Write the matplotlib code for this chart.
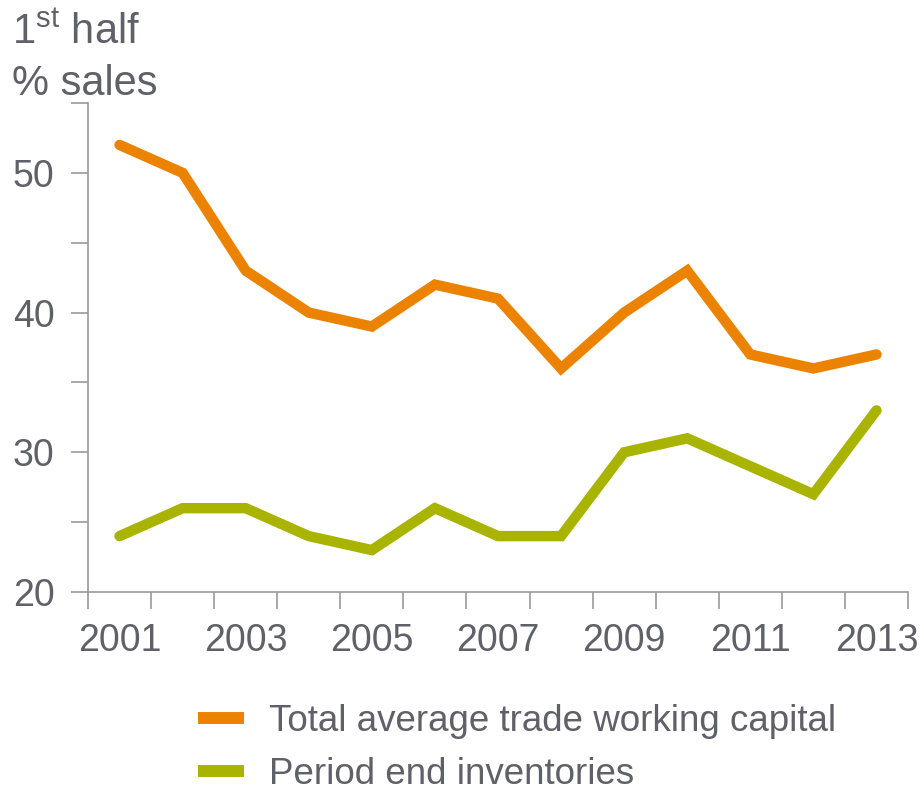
import numpy as np
import matplotlib.pyplot as plt
from matplotlib.ticker import FixedLocator

plt.rcParams['font.family'] = ['Liberation Sans', 'DejaVu Sans']
plt.rcParams['mathtext.fontset'] = 'custom'
plt.rcParams['mathtext.rm'] = 'Liberation Sans'

years = [2001, 2002, 2003, 2004, 2005, 2006, 2007, 2008, 2009, 2010, 2011, 2012, 2013]
working_capital = [52, 50, 43, 40, 39, 42, 41, 36, 40, 43, 37, 36, 37]
inventories = [24, 26, 26, 24, 23, 26, 24, 24, 30, 31, 29, 27, 33]

orange = '#EB8200'
green = '#A8B400'
text_grey = '#606068'
axis_grey = '#9A9A9A'

fig = plt.figure(figsize=(9.21, 7.93), dpi=100)
ax = fig.add_axes([88 / 921, 201 / 793, 820 / 921, 489 / 793])

x = np.arange(len(years))
ax.plot(x, working_capital, color=orange, lw=7.5, solid_joinstyle='miter',
        solid_capstyle='round', label='Total average trade working capital')
ax.plot(x, inventories, color=green, lw=7.5, solid_joinstyle='miter',
        solid_capstyle='round', label='Period end inventories')

ax.set_xlim(-0.5, len(years) - 0.5)
ax.set_ylim(20, 55)

# category boundaries get the tick marks, every other year gets a label
ax.xaxis.set_minor_locator(FixedLocator(np.arange(-0.5, len(years), 1.0)))
ax.set_xticks(x[::2])
ax.set_xticklabels([str(y) for y in years[::2]])
ax.tick_params(axis='x', which='major', length=0, pad=22, labelsize=27, labelcolor=text_grey)
ax.tick_params(axis='x', which='minor', length=12, width=1.2, color=axis_grey, direction='out')

ax.set_yticks([20, 30, 40, 50])
ax.yaxis.set_minor_locator(FixedLocator([25, 35, 45, 55]))
ax.tick_params(axis='y', which='major', length=12, width=1.2, color=axis_grey,
               pad=12, labelsize=27, labelcolor=text_grey)
ax.tick_params(axis='y', which='minor', length=12, width=1.2, color=axis_grey)

for side in ['top', 'right']:
    ax.spines[side].set_visible(False)
for side in ['left', 'bottom']:
    ax.spines[side].set_color(axis_grey)
    ax.spines[side].set_linewidth(1.2)

fig.text(12 / 921, 1 - 44 / 793, r'1$^{\mathrm{st}}$ half', fontsize=30,
         color=text_grey, va='baseline', ha='left')
fig.text(12 / 921, 1 - 95 / 793, '% sales', fontsize=30,
         color=text_grey, va='baseline', ha='left')

leg = fig.legend(loc='upper left', bbox_to_anchor=(183 / 921, 1 - 689 / 793),
                 frameon=False, fontsize=26.5, handlelength=1.25, handletextpad=0.68,
                 labelspacing=0.5, borderaxespad=0, labelcolor=text_grey)
for line in leg.get_lines():
    line.set_linewidth(8.6)
    line.set_solid_capstyle('butt')

fig.savefig('out.png', dpi=100)
